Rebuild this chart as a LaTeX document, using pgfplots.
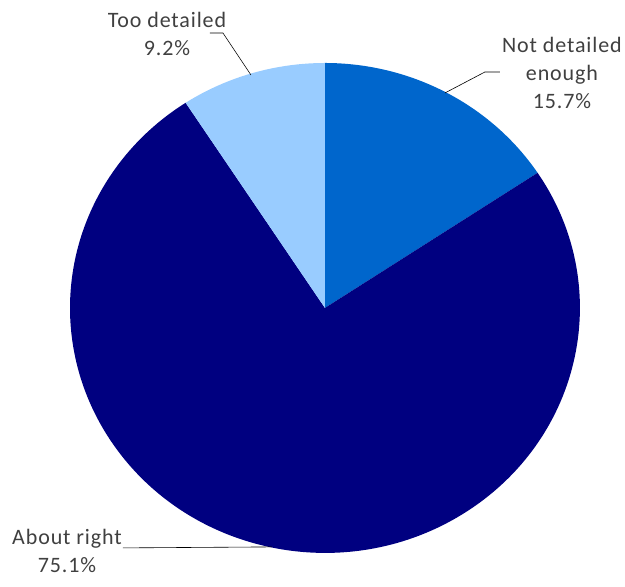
\documentclass[border=0pt]{standalone}
\usepackage{pgfplots}
\pgfplotsset{compat=1.18}
\usepackage{pgfplotstable}
\usepackage{fontspec}
\setmainfont{Carlito}[LetterSpace=4.0]
\definecolor{cNot}{HTML}{0066CC}
\definecolor{cAbout}{HTML}{000080}
\definecolor{cToo}{HTML}{99CCFF}
\definecolor{txt}{HTML}{404040}
\pgfplotstableread{
share
15.7
75.1
9.2
}\piedata
\begin{document}
\begin{tikzpicture}
\pgfplotstablegetelem{0}{share}\of\piedata \let\va\pgfplotsretval
\pgfplotstablegetelem{1}{share}\of\piedata \let\vb\pgfplotsretval
\pgfplotstablegetelem{2}{share}\of\piedata \let\vc\pgfplotsretval
\pgfmathsetmacro{\aA}{90}
\pgfmathsetmacro{\aB}{90-3.6*\va}
\pgfmathsetmacro{\aC}{\aB-3.6*\vb}
\pgfmathsetmacro{\aD}{\aC-3.6*\vc}
\begin{axis}[
  width=625bp, height=575bp, scale only axis,
  xmin=0, xmax=625, ymin=0, ymax=575,
  hide axis, clip=false,
]
\path (rel axis cs:0,0) rectangle (rel axis cs:1,1);
\fill[cNot] (axis cs:325,267) -- ++(\aA:255bp and 245bp) arc[start angle=\aA, end angle=\aB, x radius=255bp, y radius=245bp] -- cycle;
\fill[cAbout] (axis cs:325,267) -- ++(\aB:255bp and 245bp) arc[start angle=\aB, end angle=\aC, x radius=255bp, y radius=245bp] -- cycle;
\fill[cToo] (axis cs:325,267) -- ++(\aC:255bp and 245bp) arc[start angle=\aC, end angle=\aD, x radius=255bp, y radius=245bp] -- cycle;
% leader lines
\draw[black, line width=0.6bp] (axis cs:210,542) -- (axis cs:223,542) -- (axis cs:251,500);
\draw[black, line width=0.6bp] (axis cs:500,503) -- (axis cs:485,503) -- (axis cs:445,482);
\draw[black, line width=0.6bp] (axis cs:123,27) -- (axis cs:272,28);
% labels
\node[txt, align=center, font=\fontsize{22bp}{28bp}\selectfont] at (axis cs:167,541) {Too detailed\\9.2\%};
\node[txt, align=center, font=\fontsize{22bp}{28bp}\selectfont] at (axis cs:562,502) {Not detailed\\enough\\15.7\%};
\node[txt, align=center, font=\fontsize{22bp}{28bp}\selectfont] at (axis cs:67,24) {About right\\75.1\%};
\end{axis}
\end{tikzpicture}
\end{document}
